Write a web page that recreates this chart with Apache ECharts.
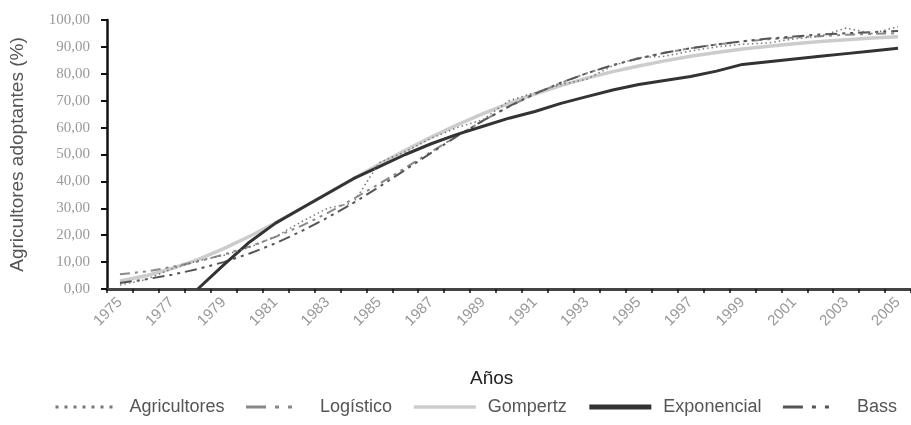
<!DOCTYPE html>
<html>
<head>
<meta charset="utf-8">
<script src="https://cdn.jsdelivr.net/npm/echarts@6/dist/echarts.min.js"></script>
<style>html,body{margin:0;padding:0;background:#fff}#c{width:911px;height:425px}</style>
</head>
<body>
<div id="c"></div>
<script>
var years = [];
for (var y = 1975; y <= 2005; y++) years.push(String(y));

var agricultores = [1.5, 3.5, 7.5, 10.5, 12.5, 15.5, 19.5, 25.0, 30.0, 32.0, 47.0, 51.0, 56.0, 60.0, 63.0, 70.0, 73.0, 76.0, 78.0, 83.0, 86.0, 86.5, 88.5, 90.0, 91.0, 91.5, 93.0, 94.0, 97.0, 95.0, 97.5];
var logistico = [5.5, 6.5, 8.2, 10.2, 12.8, 15.8, 19.4, 23.5, 28.2, 33.5, 39.1, 45.0, 51.0, 56.9, 62.5, 67.8, 72.5, 76.6, 80.2, 83.3, 85.8, 87.8, 89.5, 90.9, 92.0, 92.8, 93.5, 94.0, 94.5, 94.8, 95.1];
var gompertz = [3.0, 4.9, 7.6, 10.9, 15.0, 19.6, 24.6, 30.0, 35.5, 41.0, 46.4, 51.6, 56.5, 61.0, 65.2, 69.0, 72.5, 75.6, 78.4, 80.8, 82.9, 84.8, 86.5, 87.9, 89.2, 90.2, 91.2, 92.0, 92.7, 93.3, 93.8];
var exponencial = [null, null, null, 0.0, 9.0, 17.5, 24.5, 30.0, 35.5, 41.0, 45.5, 50.0, 54.0, 57.5, 60.5, 63.5, 66.0, 69.0, 71.5, 74.0, 76.0, 77.5, 79.0, 81.0, 83.5, 84.5, 85.5, 86.5, 87.5, 88.5, 89.5];
var bass = [2.2, 3.6, 5.3, 7.4, 10.0, 13.2, 17.0, 21.5, 26.5, 32.0, 38.0, 44.3, 50.6, 56.8, 62.6, 67.9, 72.6, 76.7, 80.2, 83.2, 85.7, 87.8, 89.5, 90.9, 92.1, 93.1, 93.9, 94.6, 95.1, 95.5, 95.9];

var names = ['Agricultores', 'Logístico', 'Gompertz', 'Exponencial', 'Bass'];

function mk(name, data, color, width, type, z) {
  return {
    name: name, type: 'line', data: data, symbol: 'none', z: z,
    connectNulls: false,
    lineStyle: { color: color, width: width, type: type },
    itemStyle: { color: color }
  };
}

var sans = 'Liberation Sans, Arial, sans-serif';

var chart = echarts.init(document.getElementById('c'), null, { renderer: 'canvas' });
chart.setOption({
  animation: false,
  backgroundColor: '#ffffff',
  title: {
    text: 'Años', left: 470, top: 369, padding: 0,
    textStyle: { fontFamily: sans, fontSize: 19, fontWeight: 'normal', color: '#222' }
  },
  legend: {
    top: 398, left: 54, width: 860, padding: 0,
    itemWidth: 62, itemHeight: 14, itemGap: 20,
    itemStyle: { opacity: 0 },
    textStyle: { fontFamily: sans, fontSize: 18, color: '#555', padding: [0, 0, 0, 7] },
    data: [
      { name: names[0], lineStyle: { color: '#777', width: 3, type: [3, 6] } },
      { name: names[1], lineStyle: { color: '#888', width: 3, type: [20, 9, 4, 9, 4, 16] } },
      { name: names[2], lineStyle: { color: '#ccc', width: 3.5, type: 'solid' } },
      { name: names[3], lineStyle: { color: '#333', width: 5, type: 'solid' } },
      { name: names[4], lineStyle: { color: '#555', width: 3, type: [20, 9, 4, 9, 4, 16] } }
    ]
  },
  grid: { left: 107, top: 20, width: 806, height: 269, containLabel: false },
  xAxis: {
    type: 'category', data: years, boundaryGap: true,
    axisLine: { lineStyle: { color: '#444', width: 3 } },
    axisTick: { show: true, interval: 0, length: 4, lineStyle: { color: '#111', width: 1.5 } },
    axisLabel: {
      interval: 1, rotate: 45, margin: 11,
      fontFamily: sans, fontSize: 15, color: '#999'
    },
    splitLine: { show: false }
  },
  yAxis: {
    type: 'value', min: 0, max: 100, interval: 10,
    name: 'Agricultores adoptantes (%)', nameLocation: 'middle', nameGap: 80,
    nameTextStyle: { fontFamily: sans, fontSize: 19, color: '#555' },
    axisLine: { show: true, lineStyle: { color: '#111', width: 2.5 } },
    axisTick: { show: true, length: 6, lineStyle: { color: '#111', width: 2 } },
    axisLabel: {
      margin: 17, fontFamily: 'Liberation Serif, Times New Roman, serif', fontSize: 15, color: '#999',
      formatter: function (v) { return v.toFixed(2).replace('.', ','); }
    },
    splitLine: { show: false }
  },
  series: [
    mk('Agricultores', agricultores, '#777777', 1.5, [1.5, 3], 5),
    mk('Logístico', logistico, '#8a8a8a', 2, [10, 5, 3, 5, 3, 5], 3),
    mk('Gompertz', gompertz, '#cccccc', 3.5, 'solid', 2),
    mk('Exponencial', exponencial, '#333333', 3, 'solid', 4),
    mk('Bass', bass, '#555555', 2, [12, 5, 3, 5, 3, 5], 3)
  ]
});
</script>
</body>
</html>
